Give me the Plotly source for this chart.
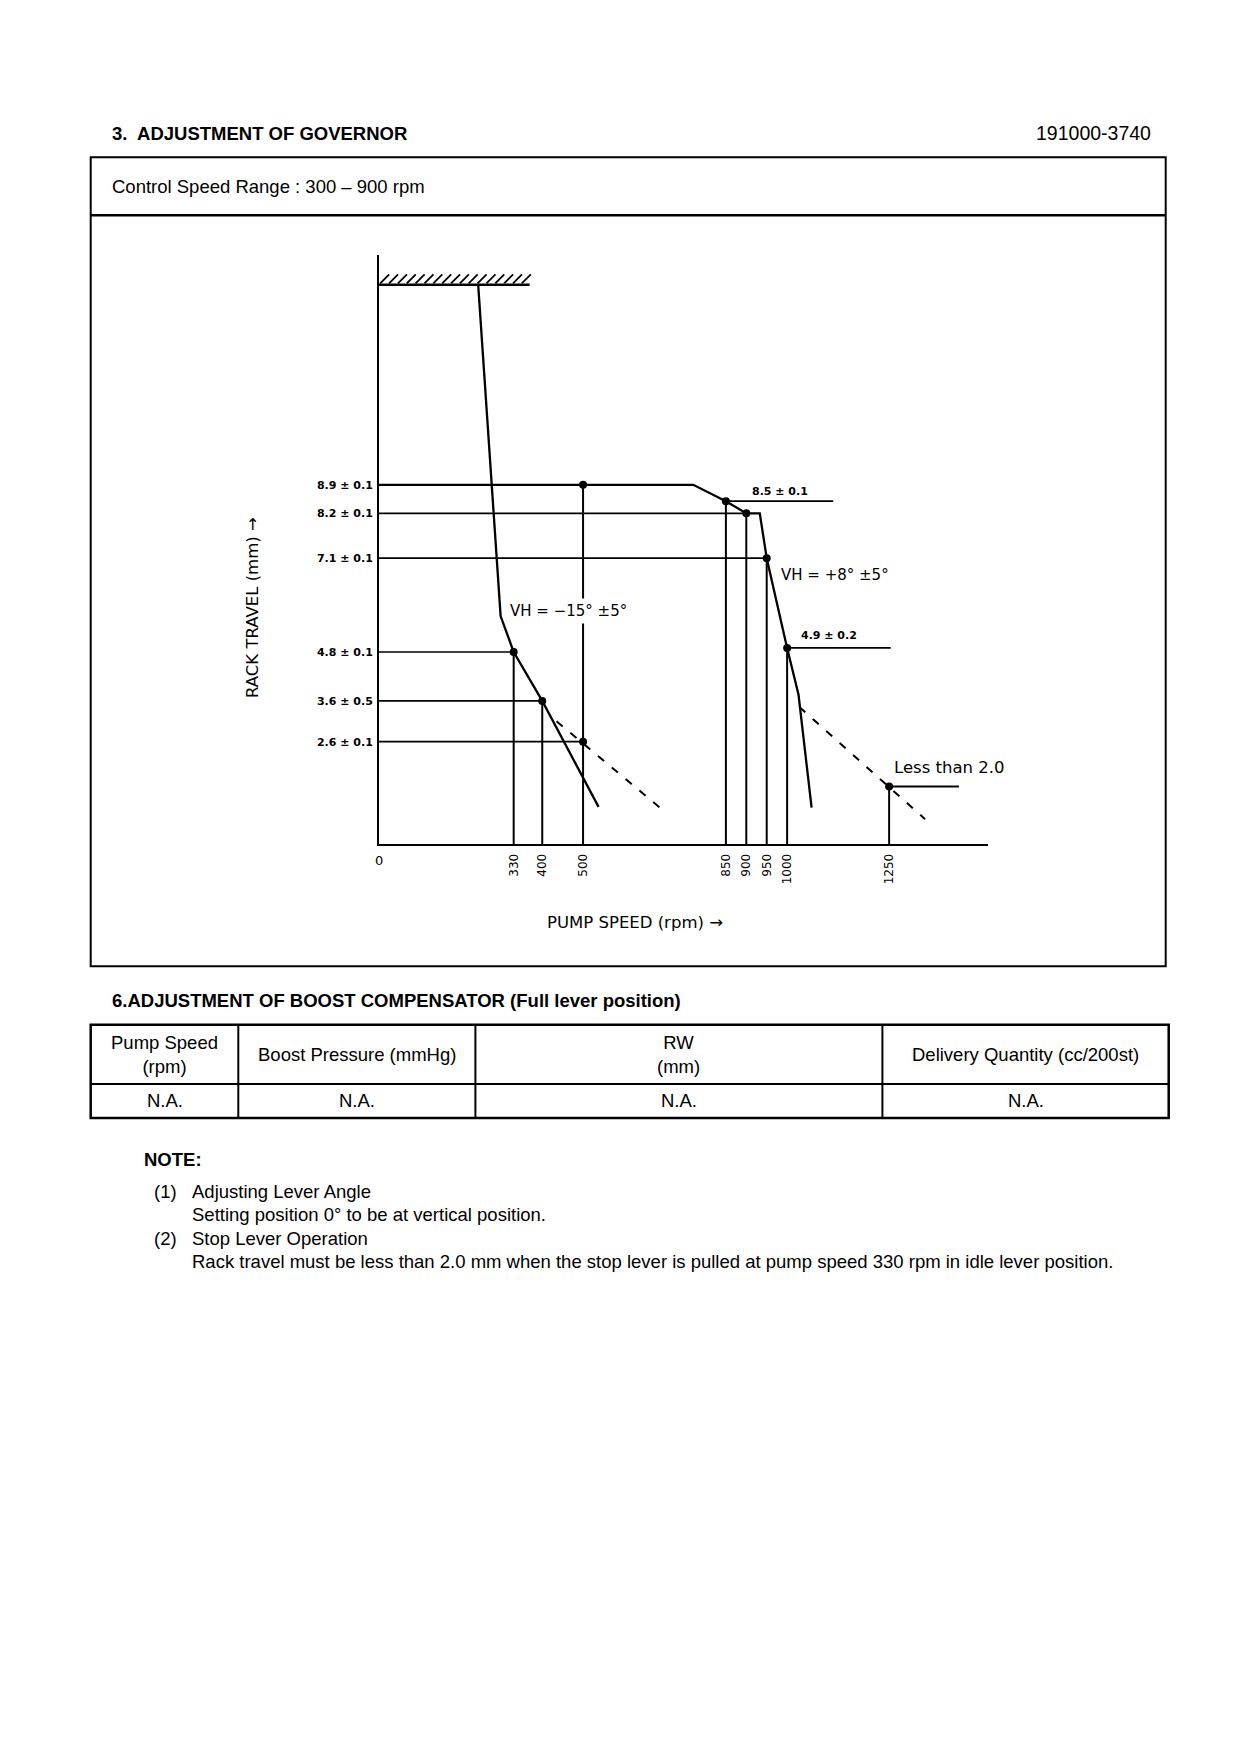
import numpy as np
import plotly.graph_objects as go

W, H = 1240, 1754

# ---------------- data ----------------
# speeds in rpm, rack travel in mm
x_tick_vals = [330, 400, 500, 850, 900, 950, 1000, 1250]
x_tick_text = ["330", "400", "500", "850", "900", "950", "1000", "1250"]
y_tick_vals = [8.9, 8.2, 7.1, 4.8, 3.6, 2.6]
y_tick_text = ["8.9 ± 0.1", "8.2 ± 0.1", "7.1 ± 0.1", "4.8 ± 0.1", "3.6 ± 0.5", "2.6 ± 0.1"]

stop_rpm = [0, 369]
stop_rack = [13.81, 13.81]

idle_rpm = [243, 298, 330, 400, 538]
idle_rack = [13.81, 5.68, 4.8, 3.6, 1.0]
idle_dash_rpm = [435, 692]
idle_dash_rack = [3.1, 0.95]

full_rpm = [0, 770, 850, 900, 933, 950, 1000, 1028, 1060]
full_rack = [8.9, 8.9, 8.5, 8.2, 8.2, 7.1, 4.9, 3.75, 0.98]
full_dash_rpm = [1030, 1338]
full_dash_rack = [3.45, 0.7]

point_rpm = [330, 400, 500, 500, 850, 900, 950, 1000, 1250]
point_rack = [4.8, 3.6, 2.6, 8.9, 8.5, 8.2, 7.1, 4.9, 1.5]

# horizontal reference lines from the rack-travel axis: (rack, end rpm)
ref_h_rack = [8.2, 7.1, 4.8, 3.6, 2.6]
ref_h_end = [900, 950, 330, 400, 500]
# label leader lines: (rack, start rpm, end rpm)
lead_rack = [8.5, 4.9, 1.5]
lead_start = [850, 1000, 1250]
lead_end = [1113, 1254, 1421]
# vertical drop lines: (rpm, top rack)
drop_rpm = [330, 400, 500, 850, 900, 950, 1000, 1250]
drop_top = [4.8, 3.6, 8.9, 8.5, 8.2, 7.1, 4.9, 1.5]

table_header = ["Pump Speed<br>(rpm)", "Boost Pressure (mmHg)", "RW<br>(mm)", "Delivery Quantity (cc/200st)"]
table_row = ["N.A.", "N.A.", "N.A.", "N.A."]

# ---------------- helpers ----------------
def px(x):
    return x / W

def py(y):
    return 1 - y / H

BODY = "Liberation Sans, Arial, sans-serif"
WIDE = "DejaVu Sans, sans-serif"

fig = go.Figure()
LC = "black"

def seg(xs, ys, width=2, dash=None):
    fig.add_trace(go.Scatter(x=xs, y=ys, mode="lines",
                             line=dict(color=LC, width=width, dash=dash),
                             showlegend=False, hoverinfo="skip"))

# stop line + hatching
seg(stop_rpm, stop_rack, width=2.5)
hx = np.linspace(stop_rpm[0] + 14, stop_rpm[1] - 8, 17)
fig.add_trace(go.Scatter(x=hx, y=[stop_rack[0] + 0.14] * len(hx), mode="markers",
                         marker=dict(symbol="line-ne", size=9, line=dict(color=LC, width=1.8)),
                         showlegend=False, hoverinfo="skip"))

# reference horizontals
for r, e in zip(ref_h_rack, ref_h_end):
    seg([0, e], [r, r], width=1.7)
for r, s, e in zip(lead_rack, lead_start, lead_end):
    seg([s, e], [r, r], width=1.8)
# verticals
for x, t in zip(drop_rpm, drop_top):
    seg([x, x], [0, t], width=2)

# curves
seg(idle_rpm, idle_rack, width=2.3)
seg(idle_dash_rpm, idle_dash_rack, width=2, dash="8px,10px")
seg(full_rpm, full_rack, width=2.3)
seg(full_dash_rpm, full_dash_rack, width=2, dash="8px,10px")

# points
fig.add_trace(go.Scatter(x=point_rpm, y=point_rack, mode="markers",
                         marker=dict(symbol="circle", size=8, color=LC),
                         showlegend=False, hoverinfo="skip"))

ann = []

def text(x, y, t, size=18.5, bold=False, xanchor="left", yanchor="middle", ref="paper", **kw):
    d = dict(text=t, showarrow=False, xanchor=xanchor, yanchor=yanchor,
             font=dict(family=kw.pop("family", BODY), size=size, color="black",
                       weight=700 if bold else 400))
    if ref == "paper":
        d.update(x=px(x), y=py(y), xref="paper", yref="paper")
    else:
        d.update(x=x, y=y, xref="x", yref="y")
    d.update(kw)
    ann.append(d)

# chart labels
text(312, 5.81, "VH = −15° ±5°", size=15, ref="data", bgcolor="white", borderpad=3, family=WIDE)
text(980, 6.70, "VH = +8° ±5°", size=15, ref="data", family=WIDE)
text(983, 8.74, "8.5 ± 0.1", size=11, bold=True, xanchor="center", ref="data", family=WIDE)
text(1103, 5.2, "4.9 ± 0.2", size=11, bold=True, xanchor="center", ref="data", family=WIDE)
text(1256, 1.96, "Less than 2.0", size=16.5, ref="data", family=WIDE)
text(0, 0.09, "0", size=13, ref="data", xanchor="center", yanchor="top", yshift=-7, family=WIDE)
text(627, 914.6, "PUMP SPEED (rpm) →", size=16.5, xanchor="center", family=WIDE)
text(244, 600, "RACK TRAVEL (mm) →", size=16.5, xanchor="center", textangle=-90, family=WIDE)

# page texts
text(102, 125.5, "3.  ADJUSTMENT OF GOVERNOR", bold=True)
text(1145, 125.5, "191000-3740", size=19.5, xanchor="right")
text(102, 179, "Control Speed Range : 300 – 900 rpm")
text(102, 992.5, "6.ADJUSTMENT OF BOOST COMPENSATOR (Full lever position)", bold=True)

col_edges = [82.7, 230.3, 467.4, 874.4, 1160.7]
for i, (h, r) in enumerate(zip(table_header, table_row)):
    cx = (col_edges[i] + col_edges[i + 1]) / 2
    text(cx, 1046, h, xanchor="center")
    text(cx, 1092.5, r, xanchor="center")

text(134, 1151.7, "NOTE:", bold=True)
text(144, 1183, "(1)")
text(182, 1183, "Adjusting Lever Angle")
text(182, 1206.5, "Setting position 0° to be at vertical position.")
text(144, 1230, "(2)")
text(182, 1230, "Stop Lever Operation")
text(182, 1253.4, "Rack travel must be less than 2.0 mm when the stop lever is pulled at pump speed 330 rpm in idle lever position.")

# frames
shapes = []

def rect(x0, y0, x1, y1, w=2):
    shapes.append(dict(type="rect", xref="paper", yref="paper", x0=px(x0), x1=px(x1),
                       y0=py(y1), y1=py(y0), line=dict(color="black", width=w)))

def hline(x0, x1, y, w=2):
    shapes.append(dict(type="line", xref="paper", yref="paper", x0=px(x0), x1=px(x1),
                       y0=py(y), y1=py(y), line=dict(color="black", width=w)))

def vline(x, y0, y1, w=2):
    shapes.append(dict(type="line", xref="paper", yref="paper", x0=px(x), x1=px(x),
                       y0=py(y0), y1=py(y1), line=dict(color="black", width=w)))

rect(82.7, 149.3, 1157.7, 958.3, 2)
hline(82.7, 1157.7, 207.3, 2.5)
rect(82.7, 1016.7, 1160.7, 1110, 2.5)
hline(82.7, 1160.7, 1076, 2)
for xe in col_edges[1:-1]:
    vline(xe, 1016.7, 1110, 2)

x0p, x1p = 371, 979.5
ybot, ytop = 836, 246.5
fig.update_layout(
    width=W, height=H, margin=dict(l=0, r=0, t=0, b=0),
    paper_bgcolor="white", plot_bgcolor="white",
    annotations=ann, shapes=shapes, showlegend=False,
    xaxis=dict(domain=[px(x0p), px(x1p)], range=[0, 1491], showgrid=False, zeroline=False,
               showline=True, linecolor="black", linewidth=2,
               tickvals=x_tick_vals, ticktext=x_tick_text, tickangle=-90, ticks="",
               ticklabelstandoff=3,
               tickfont=dict(family=WIDE, size=12, color="black")),
    yaxis=dict(domain=[py(ybot), py(ytop)], range=[0.09, 14.55], showgrid=False, zeroline=False,
               showline=True, linecolor="black", linewidth=2,
               tickvals=y_tick_vals, ticktext=y_tick_text, ticks="",
               ticklabelstandoff=2,
               tickfont=dict(family=WIDE, size=11, color="black", weight=700)),
)

fig.write_html("out.html")
